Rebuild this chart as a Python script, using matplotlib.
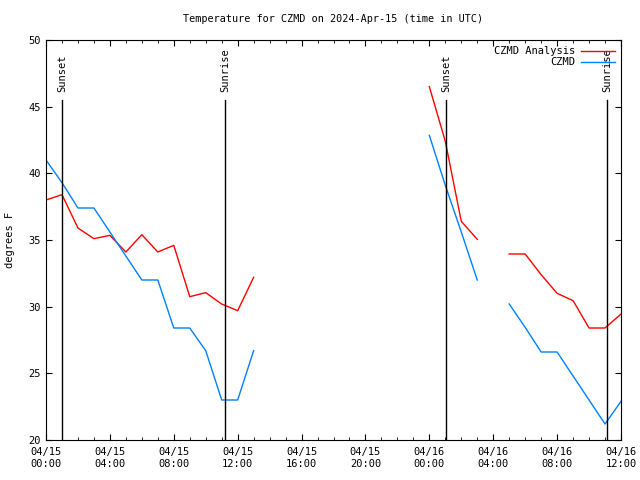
import matplotlib
matplotlib.use('Agg')
import matplotlib.pyplot as plt
import matplotlib.dates as mdates
import numpy as np
from datetime import datetime, timedelta

plt.rcParams['font.family'] = 'DejaVu Sans Mono'
plt.rcParams['font.size'] = 7.5

# 每小时一个值，04/15 00:00 起，NaN 为缺测
start = datetime(2024, 4, 15, 0, 0)
analysis = [38.0, 38.4, 35.9, 35.1, 35.35, 34.1, 35.4, 34.1, 34.6, 30.75, 31.05, 30.2, 29.7, 32.2,
            np.nan, np.nan, np.nan, np.nan, np.nan, np.nan, np.nan, np.nan, np.nan, np.nan,
            46.5, 42.4, 36.4, 35.05, np.nan, 33.95, 33.95, 32.4, 31.0, 30.45, 28.4, 28.4, 29.45]
obs = [41.0, 39.3, 37.4, 37.4, 35.6, 33.8, 32.0, 32.0, 28.4, 28.4, 26.7, 23.0, 23.0, 26.7,
       np.nan, np.nan, np.nan, np.nan, np.nan, np.nan, np.nan, np.nan, np.nan, np.nan,
       42.85, 39.1, 35.6, 32.0, np.nan, 30.2, 28.45, 26.6, 26.6, 24.8, 23.0, 21.2, 22.9]
times = [start + timedelta(hours=i) for i in range(len(obs))]

sun_labels = ['Sunset', 'Sunrise', 'Sunset', 'Sunrise']
sun_times = [datetime(2024, 4, 15, 1, 0), datetime(2024, 4, 15, 11, 13),
             datetime(2024, 4, 16, 1, 3), datetime(2024, 4, 16, 11, 8)]

fig = plt.figure(figsize=(6.4, 4.8), dpi=100)
ax = fig.add_axes([46/640, 1-440/480, 575/640, 400/480])

ax.plot(times, analysis, color='#ff0000', lw=1, label='CZMD Analysis')
ax.plot(times, obs, color='#0080ff', lw=1, label='CZMD')

for lab, t in zip(sun_labels, sun_times):
    ax.plot([t, t], [20, 45.5], color='black', lw=1)
    ax.text(t, 46.1, lab, rotation=90, ha='center', va='bottom')

ax.set_xlim(start, start + timedelta(hours=36))
ax.set_ylim(20, 50)
ax.set_yticks(np.arange(20, 51, 5))
ax.xaxis.set_major_locator(mdates.HourLocator(byhour=range(0, 24, 4)))
ax.xaxis.set_minor_locator(mdates.HourLocator())
ax.xaxis.set_major_formatter(mdates.DateFormatter('%m/%d\n%H:%M'))
ax.tick_params(which='both', direction='in', top=True, right=True)
ax.tick_params(which='major', length=4)
ax.tick_params(which='minor', length=2)
ax.tick_params(axis='x', pad=5)

ax.set_title('Temperature for CZMD on 2024-Apr-15 (time in UTC)', fontsize=7.3, pad=13)
ax.set_ylabel('degrees F', labelpad=10)

ax.legend(loc='upper right', frameon=False, markerfirst=False, handlelength=3.2,
          borderaxespad=0.2, labelspacing=0.1, handletextpad=0.6)

fig.savefig('out.png', dpi=100)
